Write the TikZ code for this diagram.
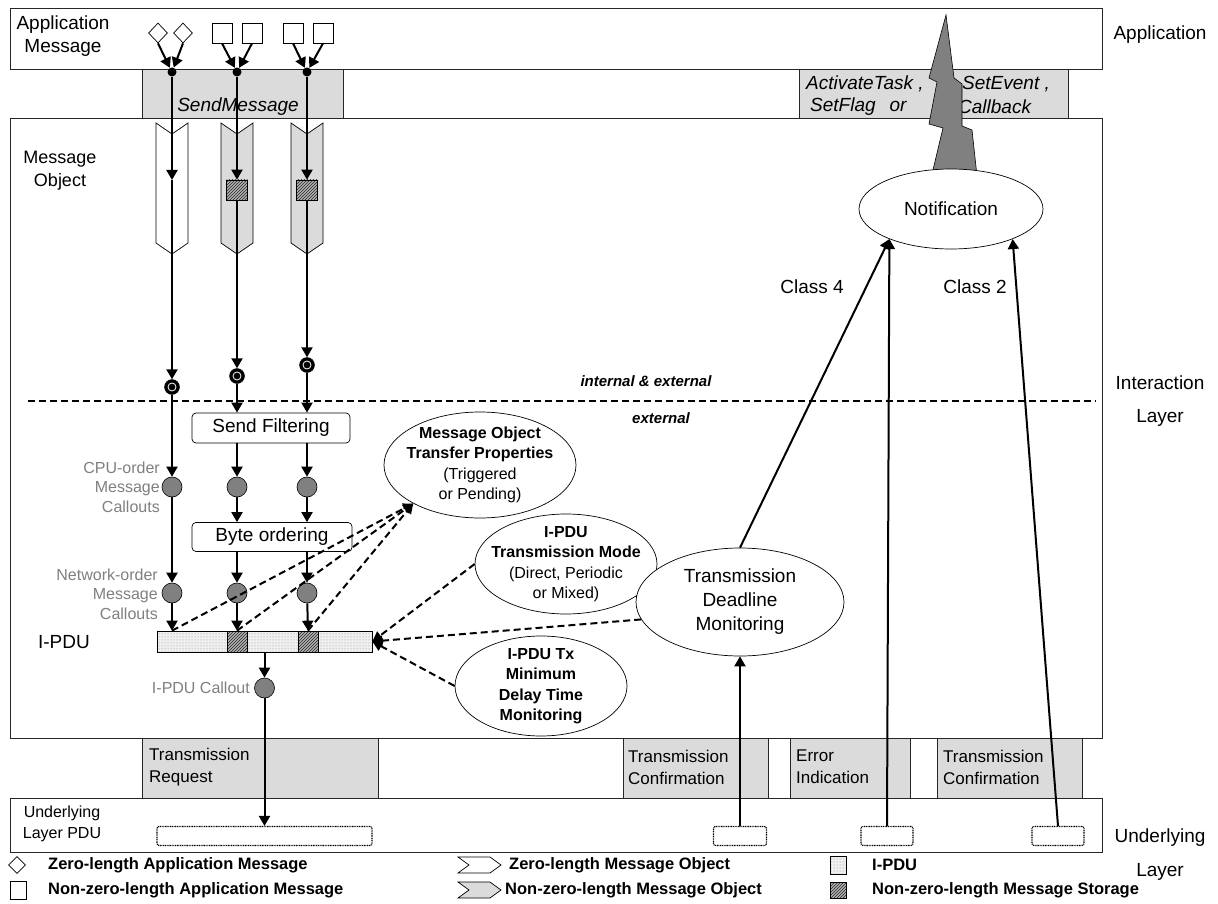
\documentclass[tikz,border=0pt]{standalone}
\usepackage{fontspec}
\setmainfont{Liberation Sans}
\usetikzlibrary{arrows.meta,shapes.geometric,patterns,calc}
\tikzset{
  fA/.style={font=\fontsize{19}{22.5}\selectfont},
  fB/.style={font=\fontsize{17}{22}\selectfont},
  fC/.style={font=\fontsize{16}{20.5}\selectfont},
  layerbox/.style={draw=black!85, line width=0.8pt},
  graybox/.style={draw=black!85, fill=black!14, line width=0.8pt},
  arr/.style={line width=2pt, -{Triangle[length=10pt,width=11pt]}},
  darr/.style={line width=2pt, dash pattern=on 7pt off 4pt, -{Triangle[length=10pt,width=10pt]}},
  dotn/.style={circle, fill=black, inner sep=0pt, minimum size=9pt},
  dcirc/.style={circle, fill=black, draw=black, inner sep=0pt, minimum size=15pt,
     path picture={\draw[white, line width=0.8pt] (path picture bounding box.center) circle (4pt);}},
  gcirc/.style={circle, fill=black!50, draw=black, line width=0.6pt, inner sep=0pt, minimum size=20pt},
  appdia/.style={diamond, draw=black, line width=0.7pt, inner sep=0pt, minimum width=19pt, minimum height=20pt, fill=white},
  appsq/.style={rectangle, draw=black, line width=0.7pt, inner sep=0pt, minimum width=20pt, minimum height=20pt, fill=white},
  hatch/.style={rectangle, draw=black, line width=0.7pt, inner sep=0pt, preaction={fill=black!30}, pattern=north east lines, pattern color=black!85},
  ipdubar/.style={rectangle, draw=black, line width=0.7pt, inner sep=0pt, preaction={fill=black!6}, pattern=dots, pattern color=black!45},
  procbox/.style={rectangle, rounded corners=4pt, draw=black, line width=0.7pt, fill=white, inner sep=0pt, fA},
  ell/.style={ellipse, draw=black, line width=0.7pt, fill=white, inner sep=0pt},
  pdubox/.style={rectangle, rounded corners=2pt, draw=black, line width=1.1pt, dash pattern=on 1pt off 0.7pt, inner sep=0pt, minimum height=19pt},
  txt/.style={inner sep=0pt},
  gtxt/.style={inner sep=0pt, text=black!50, fC},
  lgtxt/.style={inner sep=0pt, anchor=west, font=\fontsize{16.5}{20}\selectfont\bfseries},
}
\begin{document}
\begin{tikzpicture}[x=1pt,y=-1pt]
\fill[white] (0,0) rectangle (1218,904);
\useasboundingbox (0,0) rectangle (1218,904);

% layers
\draw[layerbox] (10,8) rectangle (1102,69);
\draw[layerbox] (10,118) rectangle (1102,738);
\draw[layerbox] (10,798) rectangle (1102,852);

% interface boxes
\draw[graybox] (142,69) rectangle (343,118);
\node[txt, fA, font=\fontsize{19}{22}\selectfont\itshape] (sendmsg) at (238,107) {SendMessage};
\draw[graybox] (799,69) rectangle (1068,118);
\node[txt, anchor=west, font=\fontsize{19}{22}\selectfont\itshape] (act) at (806,84) {ActivateTask ,};
\node[txt, anchor=west, font=\fontsize{19}{22}\selectfont\itshape] (setflag) at (810,107) {SetFlag\hspace{14pt}or};
\node[txt, anchor=west, font=\fontsize{19}{22}\selectfont\itshape] (setev) at (962,84) {SetEvent ,};
\node[txt, anchor=west, font=\fontsize{19}{22}\selectfont\itshape] (cb) at (958,107) {Callback};

\draw[graybox] (142,738) rectangle (378,798);
\node[txt, fB, align=left, anchor=west] (treq) at (149,767) {Transmission\\Request};
\draw[graybox] (623,738) rectangle (768,798);
\node[txt, fB, align=left, anchor=west] (tconf1) at (628,767) {Transmission\\Confirmation};
\draw[graybox] (790,738) rectangle (910,798);
\node[txt, fB, align=left, anchor=west] (errind) at (796,767) {Error\\Indication};
\draw[graybox] (937,738) rectangle (1082,798);
\node[txt, fB, align=left, anchor=west] (tconf2) at (943,767) {Transmission\\Confirmation};

% side labels
\node[txt, fA] (lapp) at (1160,35) {Application};
\node[txt, fA] (linter) at (1160,383) {Interaction};
\node[txt, fA] (llayer) at (1160,418) {Layer};
\node[txt, fA] (lund) at (1160,838) {Underlying};
\node[txt, fA] (lund2) at (1160,872) {Layer};
\node[txt, fA, align=center] (appmsg) at (63,36) {Application\\Message};
\node[txt, font=\fontsize{18}{23}\selectfont, align=center] (msgobj) at (60,171) {Message\\Object};
\node[txt, fA] (ipdulbl) at (64,642) {I-PDU};
\node[txt, fC, align=center] (ulpdu) at (62,824) {Underlying\\Layer PDU};
\node[gtxt, align=right, anchor=east, font=\fontsize{16}{19.5}\selectfont] (cpucall) at (160,487) {CPU-order\\Message\\Callouts};
\node[gtxt, align=right, anchor=east, font=\fontsize{16}{19.5}\selectfont] (netcall) at (158,594) {Network-order\\Message\\Callouts};
\node[gtxt, anchor=east] (ipducall) at (250,688) {I-PDU Callout};

% divider
\draw[line width=2pt, dash pattern=on 7pt off 4pt] (28,401) -- (1096,401);
\node[txt, font=\fontsize{15}{18}\selectfont\bfseries\itshape] (intext) at (646,381) {internal \& external};
\node[txt, font=\fontsize{15}{18}\selectfont\bfseries\itshape] (ext) at (661,418) {external};

% message object chevrons
\draw[line width=0.7pt, fill=white] (156,123) -- (172,134) -- (188,123) -- (188,243) -- (172,254) -- (156,243) -- cycle;
\draw[line width=0.7pt, fill=black!14] (221,123) -- (237,134) -- (253,123) -- (253,243) -- (237,254) -- (221,243) -- cycle;
\draw[line width=0.7pt, fill=black!14] (291,123) -- (307,134) -- (323,123) -- (323,243) -- (307,254) -- (291,243) -- cycle;

% application messages
\node[appdia] (a1) at (158,33) {};
\node[appdia] (a2) at (183,33) {};
\node[appsq] (s1) at (222,33) {};
\node[appsq] (s2) at (252,33) {};
\node[appsq] (s3) at (293,33) {};
\node[appsq] (s4) at (323,33) {};
\node[dotn] (d1) at (172,72) {};
\node[dotn] (d2) at (237,72) {};
\node[dotn] (d3) at (307,72) {};
\draw[arr] (a1.south) -- (d1);
\draw[arr] (a2.south) -- (d1);
\draw[arr] (s1.south) -- (d2);
\draw[arr] (s2.south) -- (d2);
\draw[arr] (s3.south) -- (d3);
\draw[arr] (s4.south) -- (d3);

% storage
\coordinate (m1) at (172,180);
\node[hatch, minimum width=21pt, minimum height=20pt] (h1) at (237,190) {};
\node[hatch, minimum width=21pt, minimum height=20pt] (h2) at (307,190) {};
\draw[arr] (d1) -- (m1);
\draw[arr] (d2) -- (h1);
\draw[arr] (d3) -- (h2);

\node[dcirc] (dc1) at (172,387) {};
\node[dcirc] (dc2) at (237,376) {};
\node[dcirc] (dc3) at (307,365) {};
\draw[arr] (m1) -- (dc1);
\draw[arr] (h1) -- (dc2);
\draw[arr] (h2) -- (dc3);

\node[procbox, minimum width=158pt, minimum height=30pt] (sf) at (271,428) {Send Filtering};
\node[procbox, minimum width=160pt, minimum height=29pt] (bo) at (272,537) {Byte ordering};

\node[gcirc] (g11) at (172,487) {};
\node[gcirc] (g12) at (237,487) {};
\node[gcirc] (g13) at (307,487) {};
\node[gcirc] (g21) at (172,593) {};
\node[gcirc] (g22) at (237,593) {};
\node[gcirc] (g23) at (307,593) {};

\draw[arr] (dc1) -- (g11);
\draw[arr] (dc2) -- (dc2 |- sf.north);
\draw[arr] (dc3) -- (dc3 |- sf.north);
\draw[arr] (g12 |- sf.south) -- (g12);
\draw[arr] (g13 |- sf.south) -- (g13);
\draw[arr] (g11) -- (g21);
\draw[arr] (g12) -- (g12 |- bo.north);
\draw[arr] (g13) -- (g13 |- bo.north);
\draw[arr] (g22 |- bo.south) -- (g22);
\draw[arr] (g23 |- bo.south) -- (g23);

% I-PDU
\node[ipdubar, minimum width=215pt, minimum height=21pt] (ipdu) at (264.5,641.5) {};
\node[hatch, minimum width=20pt, minimum height=21pt] (hc1) at (237,641.5) {};
\node[hatch, minimum width=20pt, minimum height=21pt] (hc2) at (308,641.5) {};
\draw[arr] (g21) -- (g21 |- ipdu.north);
\draw[arr] (g22) -- (hc1.north);
\draw[arr] (g23) -- (hc2.north);
\node[gcirc] (gc) at (264.5,688) {};
\draw[arr] (ipdu.south) -- (gc);

% underlying PDUs
\node[pdubox, minimum width=215pt] (pdu1) at (264.5,836) {};
\node[pdubox, minimum width=53pt] (pdu2) at (740,836) {};
\node[pdubox, minimum width=52pt] (pdu3) at (887,836) {};
\node[pdubox, minimum width=52pt] (pdu4) at (1058,836) {};
\draw[arr] (gc) -- (pdu1.north);

% ellipses
\node[ell, minimum width=192pt, minimum height=106pt,
  label={[txt, fC, align=center]center:{\textbf{Message Object}\\\textbf{Transfer Properties}\\(Triggered\\or Pending)}}] (motp) at (480,465) {};
\node[ell, minimum width=182pt, minimum height=100pt,
  label={[txt, fC, align=center]center:{\textbf{I-PDU}\\\textbf{Transmission Mode}\\(Direct, Periodic\\or Mixed)}}] (tm) at (566,564) {};
\node[ell, minimum width=172pt, minimum height=100pt,
  label={[txt, fC, align=center]center:{\textbf{I-PDU Tx}\\\textbf{Minimum}\\\textbf{Delay Time}\\\textbf{Monitoring}}}] (tmd) at (541,686) {};
\node[ell, minimum width=208pt, minimum height=108pt,
  label={[txt, font=\fontsize{19}{24}\selectfont, align=center]center:{Transmission\\Deadline\\Monitoring}}] (tdm) at (740,602) {};

% dashed relations
\draw[darr] (ipdu.north -| g21) -- (motp.210);
\draw[darr] (hc1.north) -- (motp.210);
\draw[darr] (hc2.north) -- (motp.210);
\draw[darr] (tm.west) -- (ipdu.east);
\draw[darr] (tdm.190) -- (ipdu.east);
\draw[darr] (tmd.west) -- (ipdu.east);

% lightning and notification
\draw[fill=black!50, draw=black, line width=0.6pt] (946,15) -- (929,78) -- (937,82) -- (929,124) -- (943,128) -- (932,174) -- (977,176) -- (972,130) -- (962,126) -- (962,84) -- (954,78) -- cycle;
\node[ell, minimum width=184pt, minimum height=80pt, fA] (notif) at (951,209) {Notification};

\draw[arr] (pdu2.north) -- (tdm.south);
\draw[arr] (tdm.north) -- (notif.206);
\draw[arr] (pdu3.north) -- (notif.206);
\draw[arr] (pdu4.north) -- (notif.334);
\node[txt, fA] (cl4) at (812,287) {Class 4};
\node[txt, fA] (cl2) at (975,287) {Class 2};

% legend
\node[appdia, minimum width=17pt, minimum height=17pt] (lg1) at (17,865) {};
\node[lgtxt] (lt1) at (48,865) {Zero-length Application Message};
\node[appsq, minimum width=16pt, minimum height=18pt] (lg2) at (18,890) {};
\node[lgtxt] (lt2) at (48,890) {Non-zero-length Application Message};
\draw[line width=0.7pt, fill=white] (458,857) -- (490,857) -- (501,865) -- (490,873) -- (458,873) -- (469,865) -- cycle;
\node[lgtxt] (lt3) at (509,865) {Zero-length Message Object};
\draw[line width=0.7pt, fill=black!14] (458,882) -- (490,882) -- (501,890) -- (490,898) -- (458,898) -- (469,890) -- cycle;
\node[lgtxt] (lt4) at (505,890) {Non-zero-length Message Object};
\node[ipdubar, minimum width=16pt, minimum height=18pt] (lg5) at (838,865) {};
\node[lgtxt] (lt5) at (872,865) {I-PDU};
\node[hatch, minimum width=16pt, minimum height=16pt] (lg6) at (838,890) {};
\node[lgtxt] (lt6) at (872,890) {Non-zero-length Message Storage};
\end{tikzpicture}
\end{document}
